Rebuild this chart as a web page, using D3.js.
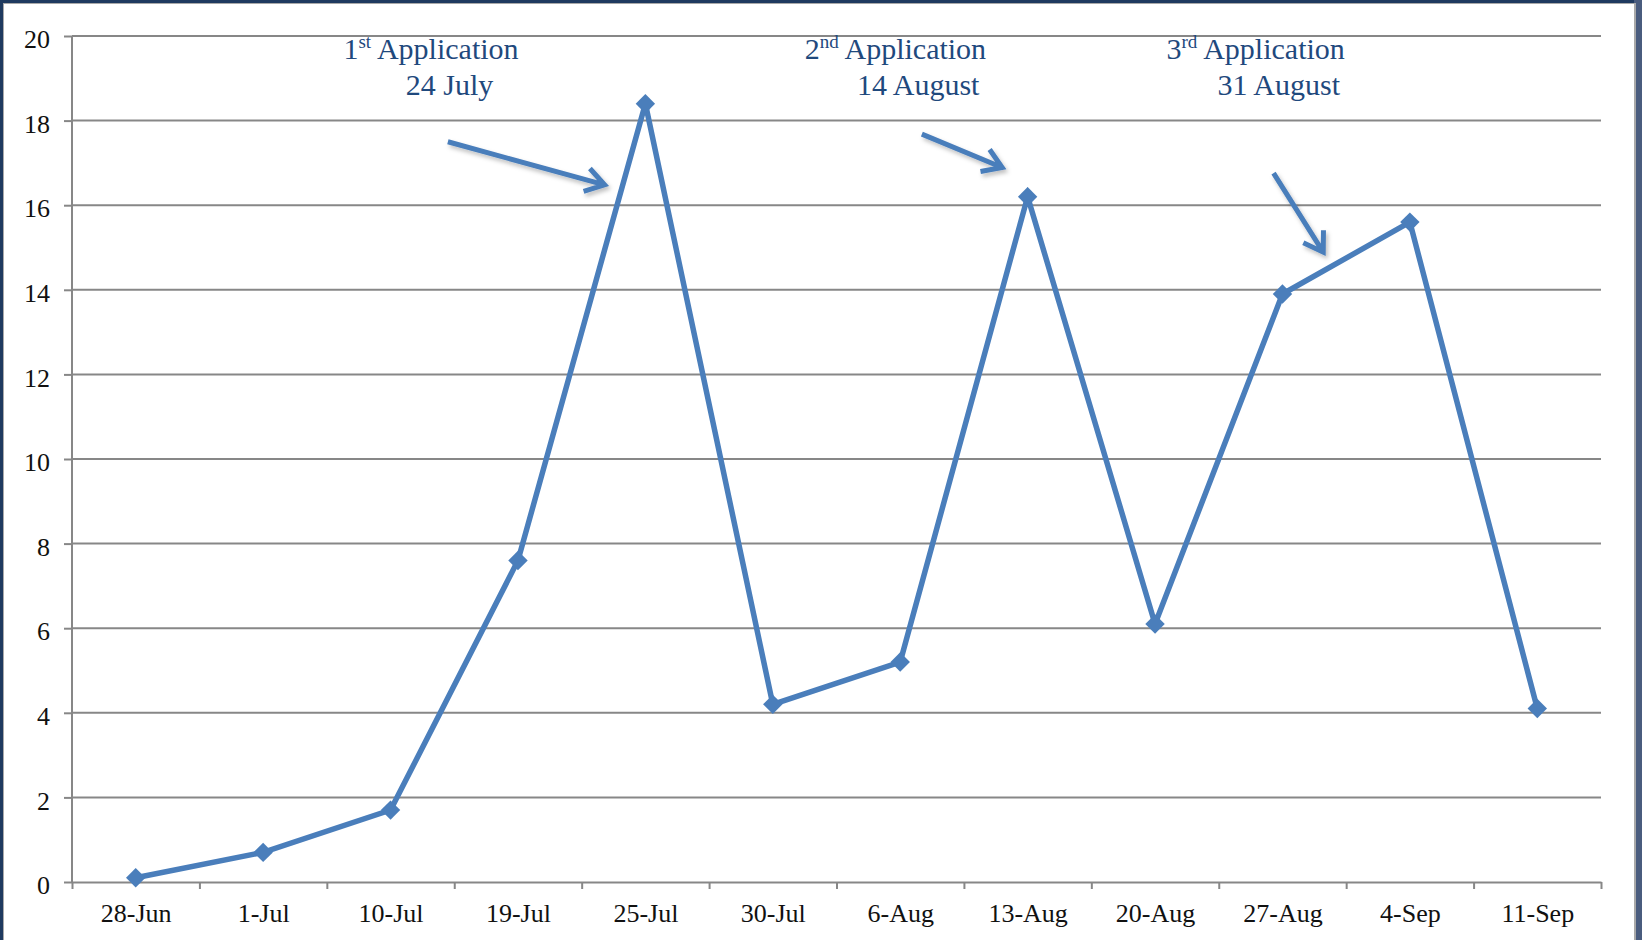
<!DOCTYPE html>
<html>
<head>
<meta charset="utf-8">
<script src="https://cdn.jsdelivr.net/npm/d3@7"></script>
<style>
  html, body { margin: 0; padding: 0; background: #fff; overflow: hidden; }
  svg { display: block; }
</style>
</head>
<body>
<svg id="chart" width="1642" height="940"></svg>
<script>
// categories and values
const categories = ['28-Jun', '1-Jul', '10-Jul', '19-Jul', '25-Jul', '30-Jul',
  '6-Aug', '13-Aug', '20-Aug', '27-Aug', '4-Sep', '11-Sep']
const values = [0.1, 0.7, 1.7, 7.6, 18.4, 4.2, 5.2, 16.2, 6.1, 13.9, 15.6, 4.1]
const yTicks = [0, 2, 4, 6, 8, 10, 12, 14, 16, 18, 20]

// annotations: arrows in (category index, value) units
const arrows = [
  { from: [2.45, 17.5], to: [3.68, 16.48] },
  { from: [6.17, 17.68], to: [6.80, 16.89] },
  { from: [8.93, 16.76], to: [9.32, 14.89] }
]
const notes = [
  { num: '1', sup: 'st', line1: ' Application', line2: '24 July', x1: 1.63, x2: 2.12 },
  { num: '2', sup: 'nd', line1: ' Application', line2: '14 August', x1: 5.25, x2: 5.66 },
  { num: '3', sup: 'rd', line1: ' Application', line2: '31 August', x1: 8.09, x2: 8.49 }
]

const W = 1642, H = 940
const plotLeft = 72, plotRight = 1601, plotTop = 36, plotBottom = 882
const lineColor = '#4A7EBB'
const gridColor = '#878787'
const font = '"Liberation Serif", "Times New Roman", serif'

const svg = d3.select('#chart')

// frame
svg.append('rect').attr('width', W).attr('height', H).attr('fill', '#1F3A5F')
svg.append('rect').attr('x', 1634).attr('width', 8).attr('height', H).attr('fill', '#4A5C7E')
svg.append('rect').attr('x', 3).attr('y', 3).attr('width', 1633).attr('height', H)
  .attr('fill', '#a9a9a9')
svg.append('rect').attr('x', 4).attr('y', 4).attr('width', 1630).attr('height', H)
  .attr('fill', '#fff')

const defs = svg.append('defs')
defs.append('filter').attr('id', 'shadow')
  .attr('x', '-20%').attr('y', '-20%').attr('width', '140%').attr('height', '140%')
  .append('feDropShadow')
  .attr('dx', 2).attr('dy', 3).attr('stdDeviation', 2)
  .attr('flood-color', '#000').attr('flood-opacity', 0.25)

const x = d3.scaleLinear().domain([-0.5, categories.length - 0.5]).range([plotLeft, plotRight])
const y = d3.scaleLinear().domain([0, 20]).range([plotBottom, plotTop])

// gridlines + y axis
const yAxis = svg.append('g')
  .attr('transform', `translate(${plotLeft},0)`)
  .call(d3.axisLeft(y).tickValues(yTicks).tickSize(8).tickPadding(14))
yAxis.select('.domain').remove()
yAxis.selectAll('.tick line').attr('stroke', gridColor).attr('stroke-width', 2)
yAxis.selectAll('.tick text')
  .attr('font-family', font).attr('font-size', 26).attr('fill', '#111')
  .attr('dy', '0.45em')

svg.append('g').selectAll('line')
  .data(yTicks.filter(d => d > 0))
  .join('line')
  .attr('x1', plotLeft).attr('x2', plotRight)
  .attr('y1', d => y(d)).attr('y2', d => y(d))
  .attr('stroke', gridColor).attr('stroke-width', 2)

svg.append('line')
  .attr('x1', plotLeft).attr('x2', plotLeft).attr('y1', plotTop).attr('y2', plotBottom)
  .attr('stroke', gridColor).attr('stroke-width', 2)

// x axis: tick marks between categories, labels at centres
const xTicks = svg.append('g')
  .attr('transform', `translate(0,${plotBottom})`)
  .call(d3.axisBottom(x).tickValues(d3.range(-0.5, categories.length, 1))
    .tickSize(7).tickFormat('').tickSizeOuter(0))
xTicks.select('.domain').attr('stroke', gridColor).attr('stroke-width', 2)
xTicks.selectAll('.tick line').attr('stroke', gridColor).attr('stroke-width', 2)

const xLabels = svg.append('g')
  .attr('transform', `translate(0,${plotBottom})`)
  .call(d3.axisBottom(x).tickValues(d3.range(categories.length))
    .tickSize(0).tickPadding(22).tickFormat(i => categories[i]))
xLabels.select('.domain').remove()
xLabels.selectAll('.tick text')
  .attr('font-family', font).attr('font-size', 26).attr('fill', '#111')

// series line and diamond markers
const line = d3.line().x((d, i) => x(i)).y(d => y(d))
svg.append('path')
  .datum(values)
  .attr('d', line)
  .attr('fill', 'none')
  .attr('stroke', lineColor)
  .attr('stroke-width', 5.5)
  .attr('stroke-linejoin', 'miter')

const diamond = d3.symbol().type(d3.symbolDiamond2).size(240)
svg.append('g').selectAll('path')
  .data(values)
  .join('path')
  .attr('d', diamond)
  .attr('transform', (d, i) => `translate(${x(i)},${y(d)})`)
  .attr('fill', lineColor)

// arrows with open heads
const arrowG = svg.append('g').attr('filter', 'url(#shadow)')
arrows.forEach(a => {
  const x0 = x(a.from[0]), y0 = y(a.from[1])
  const x1 = x(a.to[0]), y1 = y(a.to[1])
  const ang = Math.atan2(y1 - y0, x1 - x0)
  const len = 22, spread = Math.PI / 5.5
  const h1 = [x1 - len * Math.cos(ang - spread), y1 - len * Math.sin(ang - spread)]
  const h2 = [x1 - len * Math.cos(ang + spread), y1 - len * Math.sin(ang + spread)]
  arrowG.append('path')
    .attr('d', `M${x0},${y0}L${x1},${y1}M${h1[0]},${h1[1]}L${x1},${y1}L${h2[0]},${h2[1]}`)
    .attr('fill', 'none')
    .attr('stroke', lineColor)
    .attr('stroke-width', 5)
    .attr('stroke-linecap', 'butt')
    .attr('stroke-linejoin', 'miter')
})

// annotation text
const noteG = svg.append('g')
  .attr('font-family', font).attr('font-size', 30).attr('fill', '#1F497D')
notes.forEach(n => {
  const t = noteG.append('text').attr('x', x(n.x1)).attr('y', 59)
  t.append('tspan').text(n.num)
  t.append('tspan').attr('font-size', 19).attr('dy', -11).text(n.sup)
  t.append('tspan').attr('dy', 11).text(n.line1)
  noteG.append('text').attr('x', x(n.x2)).attr('y', 95).text(n.line2)
})
</script>
</body>
</html>
